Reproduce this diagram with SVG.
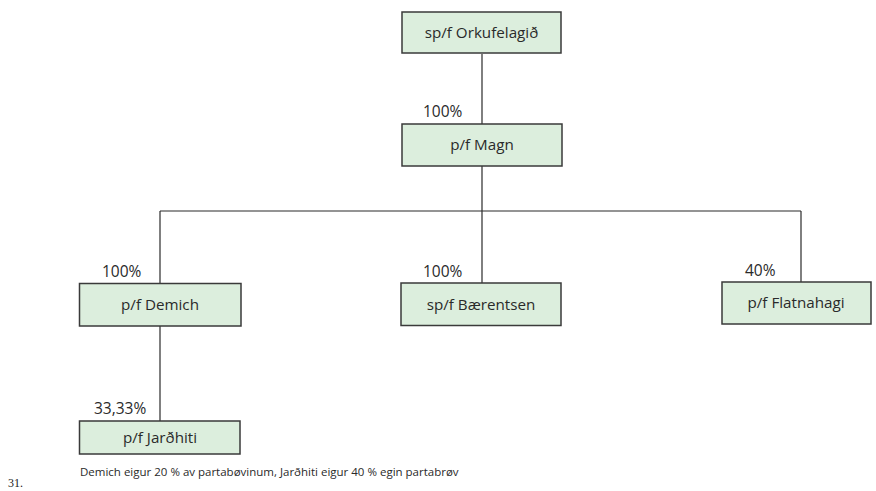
<svg xmlns="http://www.w3.org/2000/svg" width="876" height="491" viewBox="0 0 876 491">
<style>
.box{fill:#dceedd;stroke:#3a3a3a;stroke-width:1.5}
.lbl{font-family:"Open Sans","Noto Sans",sans-serif;font-size:15.2px;fill:#2a2a2a;text-anchor:middle}
.pct{font-family:"Open Sans","Noto Sans",sans-serif;font-size:15.5px;fill:#2a2a2a}
.con{stroke:#2a2a2a;stroke-width:1.2;fill:none}
</style>
<rect width="876" height="491" fill="#ffffff"/>
<g id="connectors">
<line class="con" x1="482" y1="54" x2="482" y2="124"/>
<line class="con" x1="482" y1="166" x2="482" y2="283"/>
<line class="con" x1="160" y1="211" x2="801" y2="211"/>
<line class="con" x1="160" y1="211" x2="160" y2="283"/>
<line class="con" x1="801" y1="211" x2="801" y2="282"/>
<line class="con" x1="160" y1="326" x2="160" y2="421"/>
</g>
<g id="orkufelagid">
<rect class="box" x="402" y="12" width="159" height="41"/>
<text class="lbl" x="481.5" y="38">sp/f Orkufelagið</text>
</g>
<g id="magn">
<text class="pct" x="423" y="117">100%</text>
<rect class="box" x="402" y="124" width="160" height="42"/>
<text class="lbl" x="482" y="150">p/f Magn</text>
</g>
<g id="demich">
<text class="pct" x="102" y="277">100%</text>
<rect class="box" x="79.5" y="283.5" width="161.5" height="42.5"/>
<text class="lbl" x="160" y="310">p/f Demich</text>
</g>
<g id="baerentsen">
<text class="pct" x="423" y="277">100%</text>
<rect class="box" x="401" y="283" width="160" height="42.5"/>
<text class="lbl" x="481" y="310">sp/f Bærentsen</text>
</g>
<g id="flatnahagi">
<text class="pct" x="745" y="276">40%</text>
<rect class="box" x="722" y="282" width="149" height="42"/>
<text class="lbl" x="796" y="308">p/f Flatnahagi</text>
</g>
<g id="jardhiti">
<text class="pct" x="94" y="414">33,33%</text>
<rect class="box" x="79.5" y="421" width="160.5" height="33"/>
<text class="lbl" x="160" y="443">p/f Jarðhiti</text>
</g>
<text x="80" y="476" font-family="Open Sans,Noto Sans,sans-serif" font-size="11.5" fill="#2a2a2a">Demich eigur 20 % av partabøvinum, Jarðhiti eigur 40 % egin partabrøv</text>
<text x="8" y="487" font-family="Liberation Serif,serif" font-size="12" fill="#222">31.</text>
</svg>
